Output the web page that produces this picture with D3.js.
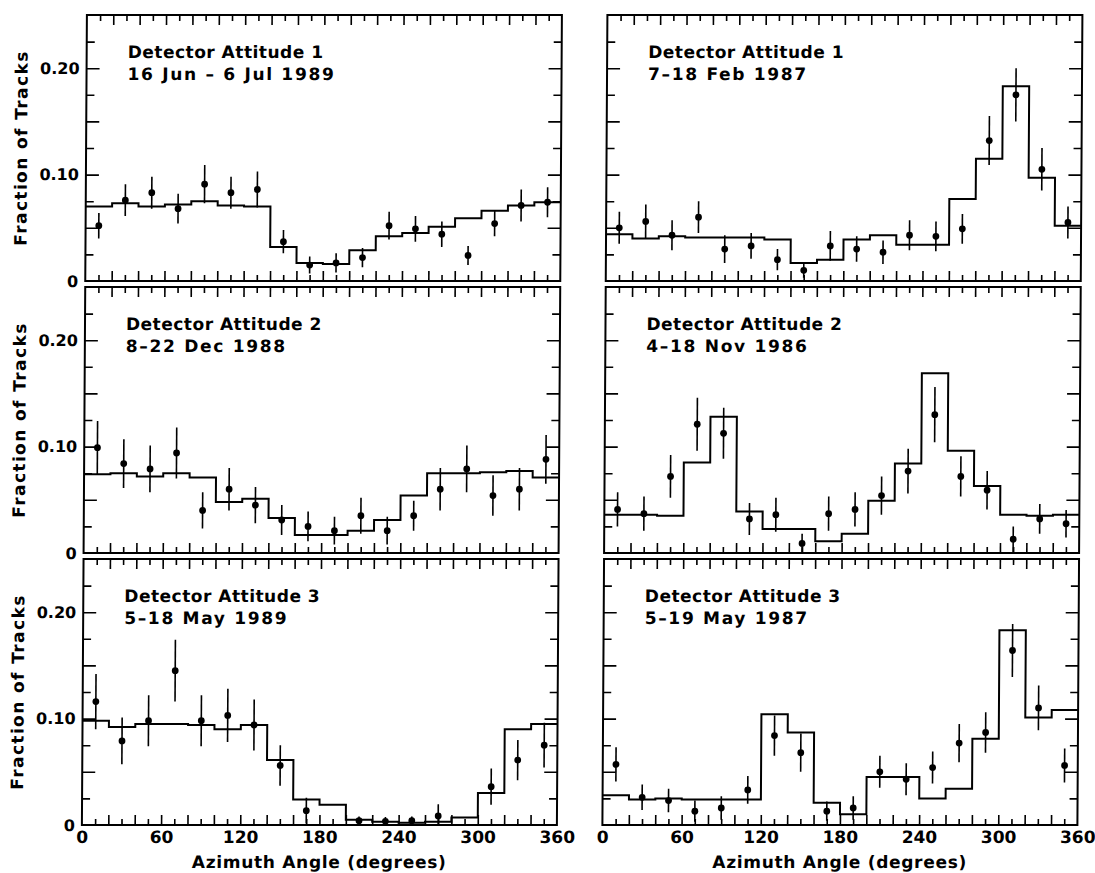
<!DOCTYPE html>
<html>
<head>
<meta charset="utf-8">
<script src="https://cdn.jsdelivr.net/npm/d3@7"></script>
<style>
  body { margin: 0; background: #fff; }
  svg { display: block; }
  text { font-family: "DejaVu Sans", sans-serif; font-weight: bold; fill: #000; }
</style>
</head>
<body>
<div class="chart-container"></div>
<script>
const totalWidth = 1095;
const totalHeight = 873;

// 18 bins of 20 degrees
const binEdges = [0, 20, 40, 60, 80, 100, 120, 140, 160, 180, 200, 220, 240, 260, 280, 300, 320, 340, 360];
const binCenters = [10, 30, 50, 70, 90, 110, 130, 150, 170, 190, 210, 230, 250, 270, 290, 310, 330, 350];
const xTickLabels = [0, 60, 120, 180, 240, 300, 360];
const yTickLabels = [0, 0.10, 0.20];

const panelTitles = ["Detector Attitude 1", "Detector Attitude 1", "Detector Attitude 2", "Detector Attitude 2", "Detector Attitude 3", "Detector Attitude 3"];
const panelDates = ["16 Jun \u2013 6 Jul 1989", "7\u201318 Feb 1987", "8\u201322 Dec 1988", "4\u201318 Nov 1986", "5\u201318 May 1989", "5\u201319 May 1987"];

// model histograms (step line)
const model1Jun89 = [0.070, 0.073, 0.070, 0.072, 0.075, 0.071, 0.070, 0.032, 0.017, 0.016, 0.029, 0.042, 0.045, 0.051, 0.059, 0.066, 0.071, 0.074];
const model1Feb87 = [0.044, 0.040, 0.042, 0.041, 0.041, 0.041, 0.039, 0.017, 0.020, 0.039, 0.043, 0.034, 0.034, 0.077, 0.115, 0.183, 0.097, 0.052];
const model2Dec88 = [0.074, 0.075, 0.072, 0.075, 0.071, 0.048, 0.051, 0.033, 0.017, 0.017, 0.021, 0.031, 0.054, 0.075, 0.075, 0.076, 0.077, 0.071];
const model2Nov86 = [0.036, 0.036, 0.035, 0.085, 0.128, 0.039, 0.0225, 0.0225, 0.011, 0.018, 0.049, 0.084, 0.169, 0.096, 0.063, 0.036, 0.035, 0.036];
const model3May89 = [0.098, 0.092, 0.095, 0.095, 0.094, 0.090, 0.094, 0.061, 0.024, 0.019, 0.005, 0.003, 0.002, 0.003, 0.007, 0.030, 0.090, 0.095];
const model3May87 = [0.028, 0.024, 0.025, 0.024, 0.024, 0.024, 0.104, 0.087, 0.021, 0.010, 0.045, 0.045, 0.025, 0.034, 0.081, 0.183, 0.101, 0.108];

// measured fractions (points) and their errors
const obs1Jun89 = [0.052, 0.076, 0.083, 0.068, 0.091, 0.083, 0.086, 0.037, 0.015, 0.017, 0.022, 0.052, 0.049, 0.044, 0.024, 0.054, 0.071, 0.074];
const err1Jun89 = [0.012, 0.015, 0.015, 0.014, 0.018, 0.015, 0.017, 0.011, 0.008, 0.009, 0.009, 0.013, 0.012, 0.012, 0.009, 0.012, 0.015, 0.014];
const obs1Feb87 = [0.050, 0.056, 0.043, 0.060, 0.030, 0.033, 0.020, 0.010, 0.033, 0.030, 0.027, 0.043, 0.042, 0.049, 0.132, 0.175, 0.105, 0.055];
const err1Feb87 = [0.015, 0.016, 0.014, 0.015, 0.013, 0.012, 0.010, 0.007, 0.014, 0.012, 0.011, 0.014, 0.014, 0.014, 0.023, 0.025, 0.020, 0.015];
const obs2Dec88 = [0.099, 0.084, 0.079, 0.094, 0.040, 0.060, 0.045, 0.031, 0.025, 0.021, 0.035, 0.021, 0.035, 0.060, 0.079, 0.054, 0.060, 0.088];
const err2Dec88 = [0.025, 0.023, 0.022, 0.024, 0.017, 0.020, 0.017, 0.014, 0.014, 0.013, 0.017, 0.013, 0.014, 0.020, 0.022, 0.019, 0.020, 0.023];
const obs2Nov86 = [0.041, 0.037, 0.072, 0.121, 0.1125, 0.032, 0.036, 0.009, 0.037, 0.041, 0.054, 0.077, 0.130, 0.072, 0.059, 0.013, 0.032, 0.0275];
const err2Nov86 = [0.016, 0.016, 0.020, 0.025, 0.024, 0.015, 0.016, 0.009, 0.016, 0.016, 0.018, 0.021, 0.026, 0.019, 0.018, 0.012, 0.014, 0.013];
const obs3May89 = [0.116, 0.079, 0.098, 0.145, 0.098, 0.103, 0.094, 0.056, 0.0135, null, 0.004, 0.0035, 0.004, 0.0085, null, 0.036, 0.061, 0.075];
const err3May89 = [0.026, 0.022, 0.024, 0.029, 0.024, 0.025, 0.024, 0.019, 0.012, 0, 0.004, 0.004, 0.004, 0.011, 0, 0.017, 0.019, 0.021];
const obs3May87 = [0.057, 0.026, 0.023, 0.013, 0.016, 0.033, 0.084, 0.068, 0.013, 0.016, 0.050, 0.043, 0.054, 0.077, 0.087, 0.164, 0.110, 0.056];
const err3May87 = [0.016, 0.012, 0.011, 0.010, 0.011, 0.013, 0.019, 0.018, 0.009, 0.011, 0.015, 0.015, 0.015, 0.018, 0.019, 0.025, 0.021, 0.016];

const panels = [
  {model: model1Jun89, obs: obs1Jun89, err: err1Jun89},
  {model: model1Feb87, obs: obs1Feb87, err: err1Feb87},
  {model: model2Dec88, obs: obs2Dec88, err: err2Dec88},
  {model: model2Nov86, obs: obs2Nov86, err: err2Nov86},
  {model: model3May89, obs: obs3May89, err: err3May89},
  {model: model3May87, obs: obs3May87, err: err3May87},
];

// layout
const colX = [87, 607.5];
const panelWidth = 475;
const rowY = [15, 287, 559];
const panelHeight = 266;

const svg = d3.select(".chart-container")
  .append("svg")
  .attr("width", totalWidth)
  .attr("height", totalHeight);

svg.append("rect").attr("width", totalWidth).attr("height", totalHeight).attr("fill", "#fff");

// the scan is slightly sheared
const root = svg.append("g").attr("transform", "skewX(-0.354)");

const scaleX = d3.scaleLinear().domain([0, 360]).range([0, panelWidth]);
const scaleY = d3.scaleLinear().domain([0, 0.25]).range([panelHeight, 0]);

const xMajor = d3.range(20, 360, 20);
const xMinor = d3.range(10, 360, 20);
const yMajor = [0.05, 0.10, 0.15, 0.20];
const yMinor = [0.025, 0.075, 0.125, 0.175, 0.225];

function tickAxis(axisFn, scale, values, len) {
  return axisFn(scale).tickValues(values).tickSize(len).tickFormat("");
}

panels.forEach((p, i) => {
  const row = Math.floor(i / 2), col = i % 2;
  const g = root.append("g").attr("transform", `translate(${colX[col]},${rowY[row]})`);

  // inward ticks on all four sides
  const addTicks = (axisFn, scale, values, len, tr) => {
    const a = g.append("g").attr("transform", tr).call(tickAxis(axisFn, scale, values, len));
    a.select(".domain").remove();
    a.selectAll("line").attr("stroke", "#000").attr("stroke-width", 1.6);
  };
  addTicks(d3.axisBottom, scaleX, xMajor, -10, `translate(0,${panelHeight})`);
  addTicks(d3.axisBottom, scaleX, xMinor, -6, `translate(0,${panelHeight})`);
  addTicks(d3.axisTop, scaleX, xMajor, -10, "translate(0,0)");
  addTicks(d3.axisTop, scaleX, xMinor, -6, "translate(0,0)");
  addTicks(d3.axisLeft, scaleY, yMajor, -13, "translate(0,0)");
  addTicks(d3.axisLeft, scaleY, yMinor, -8, "translate(0,0)");
  addTicks(d3.axisRight, scaleY, yMajor, -13, `translate(${panelWidth},0)`);
  addTicks(d3.axisRight, scaleY, yMinor, -8, `translate(${panelWidth},0)`);

  // frame
  g.append("rect")
    .attr("width", panelWidth).attr("height", panelHeight)
    .attr("fill", "none").attr("stroke", "#000").attr("stroke-width", 2);

  // histogram
  const steps = binEdges.map((e, k) => ({x: e, y: p.model[Math.min(k, p.model.length - 1)]}));
  const line = d3.line().x(d => scaleX(d.x)).y(d => scaleY(d.y)).curve(d3.curveStepAfter);
  g.append("path").datum(steps)
    .attr("d", line).attr("fill", "none").attr("stroke", "#000").attr("stroke-width", 2);

  // points with error bars
  const pts = binCenters.map((c, k) => ({x: c, y: p.obs[k], e: p.err[k]})).filter(d => d.y !== null);
  g.selectAll(".err").data(pts).enter().append("line")
    .attr("x1", d => scaleX(d.x)).attr("x2", d => scaleX(d.x))
    .attr("y1", d => scaleY(Math.max(0, d.y - d.e))).attr("y2", d => scaleY(d.y + d.e))
    .attr("stroke", "#000").attr("stroke-width", 1.6);
  g.selectAll(".pt").data(pts).enter().append("circle")
    .attr("cx", d => scaleX(d.x)).attr("cy", d => scaleY(d.y))
    .attr("r", 3.4).attr("fill", "#000");

  // annotation
  g.append("text").attr("x", 41).attr("y", 43).attr("font-size", 17)
    .attr("letter-spacing", 0.5).text(panelTitles[i]);
  g.append("text").attr("x", 41).attr("y", 65).attr("font-size", 17)
    .attr("letter-spacing", 1.7).text(panelDates[i]);

  // y labels on left column
  if (col === 0) {
    const ya = g.append("g").call(d3.axisLeft(scaleY).tickValues(yTickLabels).tickSize(0).tickPadding(7)
      .tickFormat(d => d === 0 ? "0" : d3.format(".2f")(d)));
    ya.select(".domain").remove();
    ya.selectAll("text").attr("font-size", 16).attr("font-family", null);

    g.append("text")
      .attr("transform", `translate(${28 - colX[0]},${panelHeight / 2}) rotate(-90)`)
      .attr("text-anchor", "middle").attr("font-size", 17).attr("letter-spacing", 1.4)
      .text("Fraction of Tracks");
  }

  // x labels on bottom row
  if (row === 2) {
    const xa = g.append("g").attr("transform", `translate(0,${panelHeight})`)
      .call(d3.axisBottom(scaleX).tickValues(xTickLabels).tickSize(0).tickPadding(6));
    xa.select(".domain").remove();
    xa.selectAll("text").attr("font-size", 17).attr("font-family", null);

    g.append("text")
      .attr("x", panelWidth / 2).attr("y", panelHeight + 43)
      .attr("text-anchor", "middle").attr("font-size", 17).attr("letter-spacing", 0.7)
      .text("Azimuth Angle (degrees)");
  }
});
</script>
</body>
</html>
